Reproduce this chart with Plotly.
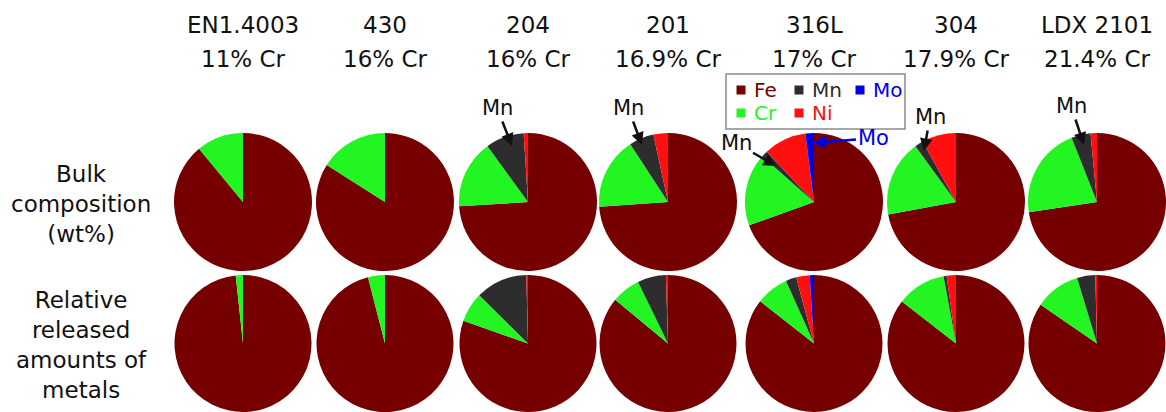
import plotly.graph_objects as go

W, H = 1166, 412

alloys = ["EN1.4003", "430", "204", "201", "316L", "304", "LDX 2101"]
cr_text = ["11% Cr", "16% Cr", "16% Cr", "16.9% Cr", "17% Cr", "17.9% Cr", "21.4% Cr"]
elements = ["Fe", "Cr", "Mn", "Ni", "Mo"]
colors = {"Fe": "#760000", "Cr": "#22f522", "Mn": "#2d2d2d", "Ni": "#ff0f0f", "Mo": "#0000e8"}

# Bulk composition (wt%)
bulk_fe = [89.0, 84.0, 74.0, 73.9, 69.5, 72.1, 72.6]
bulk_cr = [11.0, 16.0, 16.0, 16.9, 17.0, 17.9, 21.4]
bulk_mn = [0.0, 0.0, 9.0, 5.8, 1.5, 2.0, 4.5]
bulk_ni = [0.0, 0.0, 1.0, 3.4, 10.0, 8.0, 1.5]
bulk_mo = [0.0, 0.0, 0.0, 0.0, 2.0, 0.0, 0.0]

# Relative released amounts of metals
rel_fe = [98.3, 96.0, 80.4, 86.0, 85.6, 85.5, 84.6]
rel_cr = [1.7, 4.0, 7.0, 6.8, 7.7, 11.6, 10.7]
rel_mn = [0.0, 0.0, 12.2, 6.7, 2.5, 0.7, 4.3]
rel_ni = [0.0, 0.0, 0.4, 0.5, 3.2, 2.2, 0.4]
rel_mo = [0.0, 0.0, 0.0, 0.0, 1.0, 0.0, 0.0]

row_labels = ["Bulk<br>composition<br>(wt%)", "Relative<br>released<br>amounts of<br>metals"]

# layout helpers (pixel -> paper)
def X(p):
    return p / W

def Y(p):
    return 1 - p / H

col_cx = [243, 385, 528, 668, 814, 956, 1097]
R = 69
row_top = [133, 275]

fig = go.Figure()
rows = [
    (bulk_fe, bulk_cr, bulk_mn, bulk_ni, bulk_mo),
    (rel_fe, rel_cr, rel_mn, rel_ni, rel_mo),
]
for r, series in enumerate(rows):
    top = row_top[r]
    bot = min(top + 2 * R, H)
    for i, cx in enumerate(col_cx):
        vals = [s[i] for s in series]
        fig.add_trace(go.Pie(
            labels=elements,
            values=vals,
            sort=False,
            direction="clockwise",
            rotation=0,
            textinfo="none",
            hoverinfo="label+value",
            marker=dict(colors=[colors[e] for e in elements], line=dict(width=0)),
            domain=dict(x=[X(cx - R), X(cx + R)], y=[Y(bot), Y(top)]),
            showlegend=False,
        ))

font = "DejaVu Sans, Arial, sans-serif"
ann = []
for i, cx in enumerate(col_cx):
    ann.append(dict(x=X(cx), y=Y(25), text=alloys[i], showarrow=False,
                    xanchor="center", yanchor="middle", font=dict(size=23, color="#111")))
    ann.append(dict(x=X(cx), y=Y(59), text=cr_text[i], showarrow=False,
                    xanchor="center", yanchor="middle", font=dict(size=23, color="#111")))

ann.append(dict(x=X(81), y=Y(204), text=row_labels[0], showarrow=False,
                xanchor="center", yanchor="middle", font=dict(size=23, color="#111")))
ann.append(dict(x=X(81), y=Y(345), text=row_labels[1], showarrow=False,
                xanchor="center", yanchor="middle", font=dict(size=23, color="#111")))

# pointer labels
pointers = [
    # tip x, tip y, text x, text y, text, color
    (512, 146, 497, 108, "Mn", "#111"),
    (642, 145, 628, 108, "Mn", "#111"),
    (776, 166, 736, 143, "Mn", "#111"),
    (813, 143, 873, 138, "Mo", "#0000e8"),
    (924, 151, 930, 117, "Mn", "#111"),
    (1084, 145, 1071, 106, "Mn", "#111"),
]
for tx, ty, lx, ly, t, c in pointers:
    ann.append(dict(x=X(tx), y=Y(ty), ax=lx - tx, ay=ly - ty, text=t,
                    showarrow=True, arrowhead=2, arrowsize=1, arrowwidth=2.5,
                    arrowcolor=c, font=dict(size=21, color=c), standoff=0))

# manual legend
shapes = [dict(type="rect", xref="paper", yref="paper", x0=X(726), x1=X(905),
               y0=Y(129), y1=Y(74), line=dict(color="#8a8a8a", width=1.5),
               fillcolor="white", layer="below")]
leg = [("Fe", 741, 90), ("Mn", 799, 90), ("Mo", 860, 90), ("Cr", 741, 113), ("Ni", 799, 113)]
for e, sx, sy in leg:
    shapes.append(dict(type="rect", xref="paper", yref="paper",
                       x0=X(sx - 4.5), x1=X(sx + 4.5), y0=Y(sy + 4.5), y1=Y(sy - 4.5),
                       fillcolor=colors[e], line=dict(width=0)))
    ann.append(dict(x=X(sx + 11), y=Y(sy), text=e, showarrow=False, xanchor="left",
                    yanchor="middle", font=dict(size=20, color=colors[e])))

fig.update_layout(
    width=W, height=H,
    margin=dict(l=0, r=0, t=0, b=0),
    paper_bgcolor="white", plot_bgcolor="white",
    font=dict(family=font),
    annotations=ann, shapes=shapes,
    showlegend=False,
)
fig.write_html("out.html", config={"displayModeBar": False},
               post_script="document.body.style.margin='0';document.body.style.overflow='hidden';")
